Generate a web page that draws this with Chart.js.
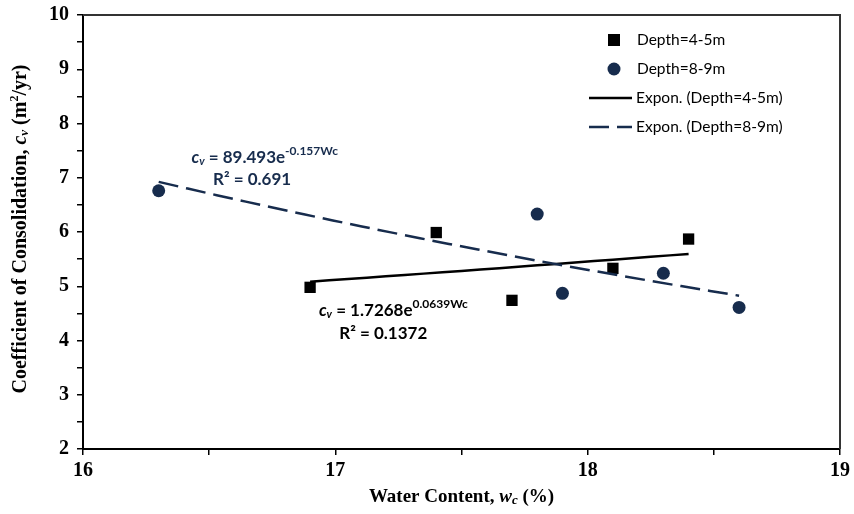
<!DOCTYPE html>
<html>
<head>
<meta charset="utf-8">
<script src="https://cdn.jsdelivr.net/npm/chart.js@4/dist/chart.umd.min.js"></script>
<style>
  html, body { margin: 0; padding: 0; background: #fff; }
  #wrap { width: 854px; height: 514px; }
</style>
</head>
<body>
<div id="wrap"><canvas id="c" width="854" height="514"></canvas></div>
<script>
// water content (%) and cv (m2/yr) for each depth
var wcShallow = [16.9, 17.4, 17.7, 18.1, 18.4];
var cvShallow = [4.98, 5.99, 4.74, 5.33, 5.87];
var wcDeep = [16.3, 17.8, 17.9, 18.3, 18.6];
var cvDeep = [6.76, 6.33, 4.87, 5.24, 4.61];

var seriesNames = ['Depth=4-5m', 'Depth=8-9m'];
var trendNames = ['Expon. (Depth=4-5m)', 'Expon. (Depth=8-9m)'];

// exponential fits cv = a * e^(b * wc)
var trendA = [1.7268, 89.493];
var trendB = [0.0639, -0.157];
var trendR2 = ['0.1372', '0.691'];

var xTicks = [16, 17, 18, 19];
var yTicks = [2, 3, 4, 5, 6, 7, 8, 9, 10];

var NAVY = '#172c4d';
var SERIF = '"Liberation Serif", "Times New Roman", serif';
var SANS = 'Lato, "Noto Sans", sans-serif';

function pts(xs, ys) {
  return xs.map(function (x, i) { return { x: x, y: ys[i] }; });
}

function trend(k, xs) {
  var lo = Math.min.apply(null, xs), hi = Math.max.apply(null, xs);
  var out = [];
  for (var i = 0; i <= 20; i++) {
    var x = lo + (hi - lo) * i / 20;
    out.push({ x: x, y: trendA[k] * Math.exp(trendB[k] * x) });
  }
  return out;
}

// draw a row of text runs with mixed fonts; align 'center' or 'left'
function richText(ctx, runs, x, y, align, color) {
  var w = 0;
  runs.forEach(function (r) { ctx.font = r.font; w += ctx.measureText(r.t).width; });
  var cx = align === 'center' ? x - w / 2 : x;
  ctx.fillStyle = color;
  ctx.textBaseline = 'middle';
  ctx.textAlign = 'left';
  runs.forEach(function (r) {
    ctx.font = r.font;
    ctx.fillText(r.t, cx, y + (r.dy || 0));
    cx += ctx.measureText(r.t).width;
  });
}

var extras = {
  id: 'extras',
  afterDraw: function (chart) {
    var ctx = chart.ctx, a = chart.chartArea;
    var xs = chart.scales.x, ys = chart.scales.y;
    ctx.save();

    // top and right frame
    ctx.strokeStyle = '#333';
    ctx.lineWidth = 2;
    ctx.beginPath();
    ctx.moveTo(a.left, a.top);
    ctx.lineTo(a.right, a.top);
    ctx.lineTo(a.right, a.bottom);
    ctx.stroke();

    // x axis title
    richText(ctx, [
      { t: 'Water Content, ', font: 'bold 19px ' + SERIF },
      { t: 'w', font: 'italic bold 19px ' + SERIF },
      { t: 'c', font: 'italic bold 13px ' + SERIF, dy: 4 },
      { t: ' (%)', font: 'bold 19px ' + SERIF }
    ], (a.left + a.right) / 2, 497, 'center', '#000');

    // y axis title
    ctx.save();
    ctx.translate(21, (a.top + a.bottom) / 2 - 3);
    ctx.rotate(-Math.PI / 2);
    richText(ctx, [
      { t: 'Coefficient of Consolidation, ', font: 'bold 20px ' + SERIF },
      { t: 'c', font: 'italic bold 20px ' + SERIF },
      { t: 'v', font: 'italic bold 13px ' + SERIF, dy: 4 },
      { t: ' (m', font: 'bold 20px ' + SERIF },
      { t: '2', font: 'bold 12px ' + SERIF, dy: -6 },
      { t: '/yr)', font: 'bold 20px ' + SERIF }
    ], 0, 0, 'center', '#000');
    ctx.restore();

    // trend equations
    var eb = 'bold 17px ' + SANS, ei = 'italic bold 17px ' + SANS;
    var es = 'italic bold 11px ' + SANS, ep = 'bold 12px ' + SANS;
    richText(ctx, [
      { t: 'c', font: ei }, { t: 'v', font: es, dy: 4 },
      { t: ' = 89.493e', font: eb }, { t: trendB[1] + 'Wc', font: ep, dy: -6 }
    ], xs.getPixelForValue(16.72), ys.getPixelForValue(7.38), 'center', NAVY);
    richText(ctx, [{ t: 'R\u00b2 = ' + trendR2[1], font: eb }],
      xs.getPixelForValue(16.67), ys.getPixelForValue(6.96), 'center', NAVY);
    richText(ctx, [
      { t: 'c', font: ei }, { t: 'v', font: es, dy: 4 },
      { t: ' = 1.7268e', font: eb }, { t: trendB[0] + 'Wc', font: ep, dy: -6 }
    ], xs.getPixelForValue(17.23), ys.getPixelForValue(4.56), 'center', '#000');
    richText(ctx, [{ t: 'R\u00b2 = ' + trendR2[0], font: eb }],
      xs.getPixelForValue(17.19), ys.getPixelForValue(4.12), 'center', '#000');

    // legend
    var lx = a.right - 226, ly = a.top + 25, gap = 29;
    var lf = '15.5px ' + SANS;
    ctx.fillStyle = '#000';
    ctx.fillRect(lx - 6, ly - 6, 12, 12);
    ctx.fillStyle = NAVY;
    ctx.beginPath();
    ctx.arc(lx, ly + gap, 6.5, 0, Math.PI * 2);
    ctx.fill();
    ctx.lineWidth = 2.5;
    ctx.strokeStyle = '#000';
    ctx.beginPath();
    ctx.moveTo(lx - 25, ly + 2 * gap);
    ctx.lineTo(lx + 18, ly + 2 * gap);
    ctx.stroke();
    ctx.strokeStyle = NAVY;
    ctx.setLineDash([20, 8]);
    ctx.beginPath();
    ctx.moveTo(lx - 25, ly + 3 * gap);
    ctx.lineTo(lx + 18, ly + 3 * gap);
    ctx.stroke();
    ctx.setLineDash([]);
    richText(ctx, [{ t: seriesNames[0], font: lf }], lx + 23, ly, 'left', '#000');
    richText(ctx, [{ t: seriesNames[1], font: lf }], lx + 23, ly + gap, 'left', '#000');
    richText(ctx, [{ t: trendNames[0], font: lf }], lx + 22, ly + 2 * gap, 'left', '#000');
    richText(ctx, [{ t: trendNames[1], font: lf }], lx + 22, ly + 3 * gap, 'left', '#000');

    ctx.restore();
  }
};

function axisTickLabel(v) {
  return Math.abs(v - Math.round(v)) < 1e-9 ? String(Math.round(v)) : '';
}

new Chart(document.getElementById('c'), {
  type: 'scatter',
  data: {
    datasets: [
      {
        label: trendNames[1],
        data: trend(1, wcDeep),
        showLine: true,
        borderColor: NAVY,
        borderWidth: 2.5,
        borderDash: [20, 8],
        pointRadius: 0,
        order: 0
      },
      {
        label: trendNames[0],
        data: trend(0, wcShallow),
        showLine: true,
        borderColor: '#000',
        borderWidth: 2.5,
        pointRadius: 0,
        order: 1
      },
      {
        label: seriesNames[0],
        data: pts(wcShallow, cvShallow),
        pointStyle: 'rect',
        pointRadius: 8,
        backgroundColor: '#000',
        borderColor: '#000',
        borderWidth: 0,
        order: 2
      },
      {
        label: seriesNames[1],
        data: pts(wcDeep, cvDeep),
        pointStyle: 'circle',
        pointRadius: 6.5,
        backgroundColor: NAVY,
        borderColor: NAVY,
        borderWidth: 0,
        order: 3
      }
    ]
  },
  options: {
    responsive: false,
    animation: false,
    devicePixelRatio: 1,
    layout: { padding: { left: 0, right: 14, top: 15, bottom: 0 } },
    plugins: {
      legend: { display: false },
      tooltip: { enabled: false }
    },
    scales: {
      x: {
        type: 'linear',
        min: xTicks[0],
        max: xTicks[xTicks.length - 1],
        afterFit: function (s) { s.height = 65; s.paddingLeft = 0; s.paddingRight = 0; },
        ticks: {
          stepSize: 0.5,
          autoSkip: false,
          maxRotation: 0,
          padding: 4,
          color: '#000',
          font: { family: SERIF, size: 20, weight: 'bold' },
          callback: axisTickLabel
        },
        grid: { drawOnChartArea: false, drawTicks: true, tickLength: 6, color: '#000', lineWidth: 1.5 },
        border: { color: '#000', width: 2 }
      },
      y: {
        type: 'linear',
        min: yTicks[0],
        max: yTicks[yTicks.length - 1],
        afterFit: function (s) { s.width = 83; s.paddingTop = 0; s.paddingBottom = 0; },
        ticks: {
          stepSize: 0.5,
          autoSkip: false,
          padding: 8,
          color: '#000',
          font: { family: SERIF, size: 20, weight: 'bold' },
          callback: axisTickLabel
        },
        grid: { drawOnChartArea: false, drawTicks: true, tickLength: 6, color: '#000', lineWidth: 1.5 },
        border: { color: '#000', width: 2 }
      }
    }
  },
  plugins: [extras]
});
</script>
</body>
</html>
